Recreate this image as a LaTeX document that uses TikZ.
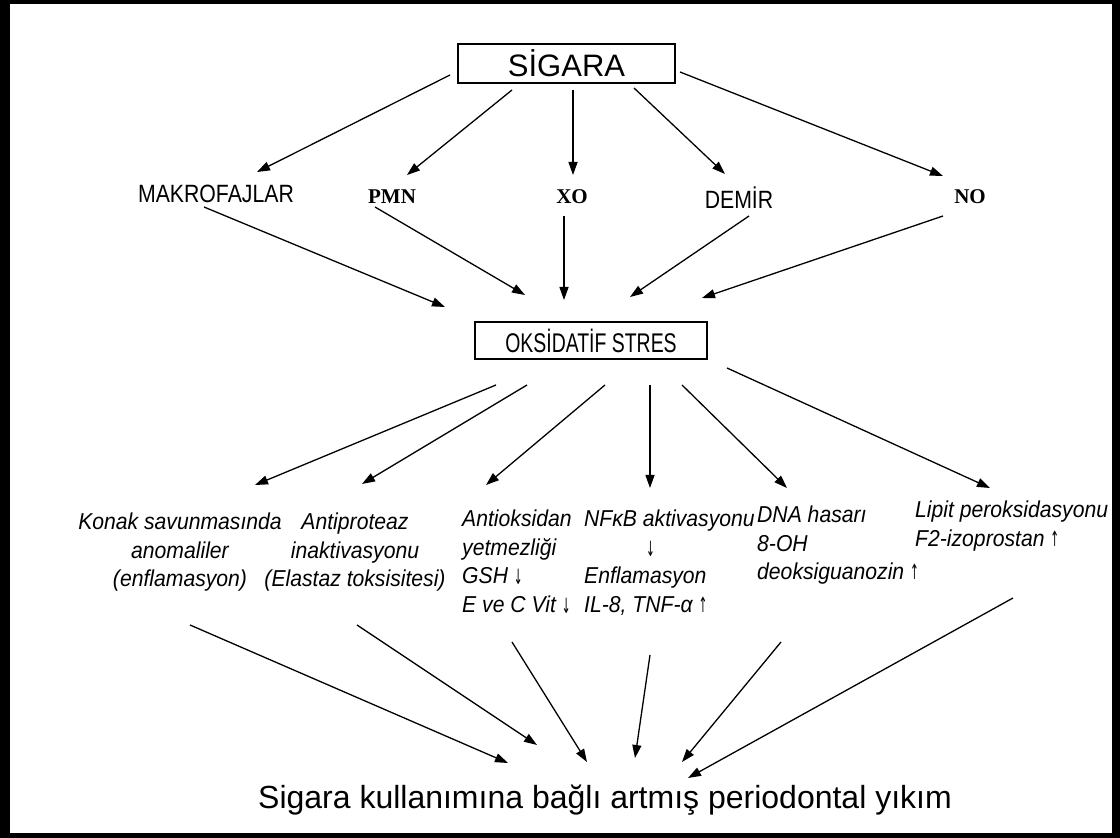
\documentclass[tikz,border=0pt]{standalone}
\usepackage{fontspec}
\usepackage{graphicx}
\setmainfont{Liberation Sans}
\newfontfamily\angosta[FakeStretch=0.92]{Liberation Sans}
\newfontfamily\etiketfuente[FakeStretch=0.85]{Liberation Sans}
\newfontfamily\oksfuente[FakeStretch=0.72]{Liberation Sans}
\newfontfamily\serifa{Liberation Serif}
\newfontfamily\flechas{DejaVu Sans}
\newcommand{\abajo}{\raisebox{-1pt}{\scalebox{0.75}[1.5]{\flechas\fontsize{14}{14}\selectfont ↓}}}
\newcommand{\arriba}{\raisebox{0pt}{\scalebox{0.75}[1.5]{\flechas\fontsize{14}{14}\selectfont ↑}}}
\usetikzlibrary{arrows.meta}

\begin{document}
\begin{tikzpicture}[x=1pt, y=1pt,
  kutu/.style={draw, line width=2.5pt, inner sep=0pt},
  etiket/.style={font=\etiketfuente\fontsize{25}{30}\selectfont, inner sep=0pt},
  serifetiket/.style={font=\serifa\bfseries\fontsize{21}{25}\selectfont, inner sep=0pt},
  aciklama/.style={font=\angosta\itshape\fontsize{23}{28.5}\selectfont, inner sep=0pt},
  ok/.style={-{Triangle[length=13pt, width=9pt]}, line width=1.3pt}]

  % Marco negro
  \fill[black] (0,0) rectangle (1120,838);
  \fill[white] (10,5) rectangle (1112,834);

  % Caja superior y causas
  \node[kutu, minimum width=217, minimum height=39, font=\fontsize{31}{37}\selectfont] (sigara) at (566.5,774.5) {SİGARA};
  \node[etiket] (makro) at (216,644) {MAKROFAJLAR};
  \node[serifetiket] (pmn) at (392,641) {PMN};
  \node[serifetiket] (xo) at (572,641) {XO};
  \node[etiket] (demir) at (739,640) {DEMİR};
  \node[serifetiket] (no) at (970,641) {NO};

  % Caja intermedia
  \node[kutu, minimum width=232, minimum height=37, font=\oksfuente\fontsize{27}{30}\selectfont] (oks) at (591,497.5) {OKSİDATİF STRES};

  % Efectos
  \node[aciklama, align=center, anchor=north] (konak) at (180,325) {Konak savunmasında\\anomaliler\\(enflamasyon)};
  \node[aciklama, align=center, anchor=north] (antip) at (355,325) {Antiproteaz\\inaktivasyonu\\(Elastaz toksisitesi)};
  \node[aciklama, align=left, anchor=north west] (antiox) at (462,328) {Antioksidan\\yetmezliği\\GSH \abajo\\E ve C Vit \abajo};
  \node[aciklama, align=left, anchor=north west] (nfkb) at (584,328) {NFκB aktivasyonu\\\hspace*{62pt}\abajo\\Enflamasyon\\IL-8, TNF-α \arriba};
  \node[aciklama, align=left, anchor=north west] (dna) at (757,332) {DNA hasarı\\8-OH\\deoksiguanozin \arriba};
  \node[aciklama, align=left, anchor=north west] (lipit) at (915,337) {Lipit peroksidasyonu\\F2-izoprostan \arriba};

  % Resultado
  \node[font=\fontsize{32}{38}\selectfont, inner sep=0pt] (yikim) at (605,38) {Sigara kullanımına bağlı artmış periodontal yıkım};

  % Flechas desde SİGARA
  \draw[ok] ([shift={(-116.5,-11.5)}]sigara.center) -- ([shift={(41,22)}]makro.center);
  \draw[ok] ([shift={(-54.5,-26.5)}]sigara.center) -- ([shift={(15,22)}]pmn.center);
  \draw[ok] ([shift={(6.5,-26.5)}]sigara.center) -- ([shift={(1,22)}]xo.center);
  \draw[ok] ([shift={(67.5,-24.5)}]sigara.center) -- ([shift={(-14,24)}]demir.center);
  \draw[ok] ([shift={(113.5,-8.5)}]sigara.center) -- ([shift={(-27,21)}]no.center);

  % Flechas hacia OKSİDATİF STRES
  \draw[ok] ([shift={(-12,-13)}]makro.center) -- ([shift={(-146,33.5)}]oks.center);
  \draw[ok] ([shift={(-17,-10)}]pmn.center) -- ([shift={(-66,45.5)}]oks.center);
  \draw[ok] ([shift={(-8,-19)}]xo.center) -- ([shift={(-27,40.5)}]oks.center);
  \draw[ok] ([shift={(10,-18)}]demir.center) -- ([shift={(39,43.5)}]oks.center);
  \draw[ok] ([shift={(-27,-19)}]no.center) -- ([shift={(111,42.5)}]oks.center);

  % Flechas hacia los efectos
  \draw[ok] ([shift={(-95,-44.5)}]oks.center) -- ([shift={(75,28)}]konak.north);
  \draw[ok] ([shift={(-64,-44.5)}]oks.center) -- ([shift={(7,29)}]antip.north);
  \draw[ok] ([shift={(14,-44.5)}]oks.center) -- ([shift={(24,25)}]antiox.north west);
  \draw[ok] ([shift={(59,-44.5)}]oks.center) -- ([shift={(66,22)}]nfkb.north west);
  \draw[ok] ([shift={(91,-44.5)}]oks.center) -- ([shift={(30,18)}]dna.north west);
  \draw[ok] ([shift={(136,-27.5)}]oks.center) -- ([shift={(75,13)}]lipit.north west);

  % Flechas hacia el resultado
  \draw[ok] ([shift={(10,-112)}]konak.north) -- ([shift={(-97,37)}]yikim.center);
  \draw[ok] ([shift={(2,-112)}]antip.north) -- ([shift={(-68,55)}]yikim.center);
  \draw[ok] ([shift={(50,-132)}]antiox.north west) -- ([shift={(-18,38)}]yikim.center);
  \draw[ok] ([shift={(66,-145)}]nfkb.north west) -- ([shift={(30,42)}]yikim.center);
  \draw[ok] ([shift={(24,-136)}]dna.north west) -- ([shift={(77,38)}]yikim.center);
  \draw[ok] ([shift={(98,-97)}]lipit.north west) -- ([shift={(83,22)}]yikim.center);
\end{tikzpicture}
\end{document}
